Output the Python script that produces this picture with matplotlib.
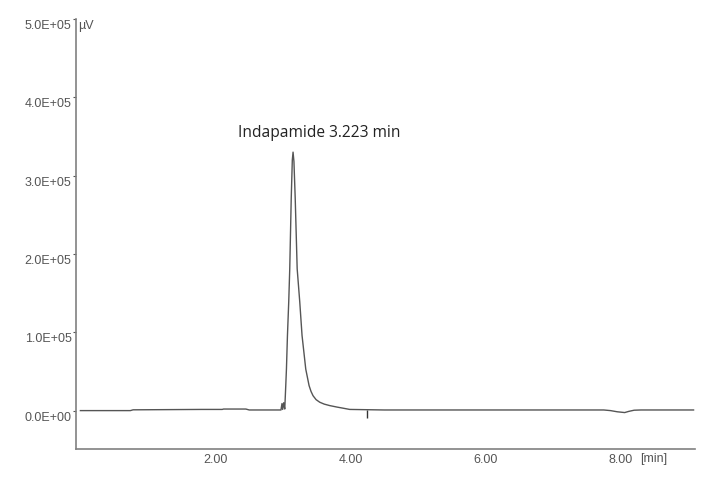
import numpy as np
import matplotlib
matplotlib.use('Agg')
import matplotlib.pyplot as plt

plt.rcParams.update({
    'font.family': ['Liberation Sans', 'DejaVu Sans'],
    'font.size': 9,
})

# retention time (min) and detector signal (uV)
time_min = [0.0, 0.74, 0.78, 1.80, 2.10, 2.12, 2.45, 2.50, 2.97, 2.985, 2.995, 3.01, 3.026,
            3.041, 3.051, 3.066, 3.085, 3.100, 3.122, 3.138, 3.149, 3.162, 3.181, 3.21,
            3.248, 3.282, 3.337, 3.386, 3.415, 3.445, 3.49, 3.544, 3.61, 3.692, 3.80,
            3.889, 3.988, 4.5, 6.0, 7.75, 7.85, 7.95, 8.06, 8.12, 8.20, 8.30, 9.08]
signal_uv = [0, 0, 1000, 1500, 1500, 2000, 2000, 800, 800, 9000, 1500, 10000, 2000,
             32000, 53000, 96000, 139000, 181000, 271000, 320000, 330000, 318000, 271000, 181000,
             139000, 96000, 53000, 32000, 24500, 19000, 14000, 10700, 8300, 6400, 4500,
             3100, 1500, 800, 800, 800, 0, -1500, -2500, -1000, 500, 800, 800]

peak_name = 'Indapamide'
peak_rt = 3.223
label_pos = (3.53, 3.56e5)

event_times = [4.25]

x_ticks = [2.0, 4.0, 6.0, 8.0]
y_ticks = [0, 1e5, 2e5, 3e5, 4e5, 5e5]
y_tick_labels = ['0.0E+00', '1.0E+05', '2.0E+05', '3.0E+05', '4.0E+05', '5.0E+05']

fig = plt.figure(figsize=(7.12, 4.85), dpi=100)
ax = fig.add_axes([0.1063, 0.0722, 0.8697, 0.8866])

ax.plot(time_min, signal_uv, color='#555555', linewidth=1.0)
ax.vlines(event_times, -0.09e5, 0.01e5, color='#333333', linewidth=1.0)

ax.text(label_pos[0], label_pos[1], f'{peak_name} {peak_rt:.3f} min',
        ha='center', va='center', fontsize=11.2, color='#222222',
        family=['Open Sans', 'DejaVu Sans'])

ax.set_xlim(-0.07, 9.10)
ax.set_ylim(-0.49e5, 5.0e5)

ax.set_xticks(x_ticks)
ax.set_xticklabels([f'{t:.2f}' for t in x_ticks])
ax.set_yticks(y_ticks)
ax.set_yticklabels(y_tick_labels)
plt.setp(ax.get_yticklabels(), va='top')

ax.tick_params(axis='x', length=0, pad=3, colors='#555555')
ax.tick_params(axis='y', length=2, width=0.8, pad=1, colors='#555555')

for side in ['top', 'right']:
    ax.spines[side].set_visible(False)
for side in ['left', 'bottom']:
    ax.spines[side].set_color('#808080')
    ax.spines[side].set_linewidth(1.2)

# units, as the instrument software prints them
ax.annotate('[min]', xy=(8.0, 0), xycoords=('data', 'axes fraction'),
            xytext=(19, -3), textcoords='offset pixels', ha='left', va='top',
            color='#555555', fontsize=9)
ax.annotate('\u00b5V', xy=(0, 1), xycoords='axes fraction',
            xytext=(2, 0), textcoords='offset pixels', ha='left', va='top',
            color='#555555', fontsize=9)

fig.savefig('out.png', dpi=100)
